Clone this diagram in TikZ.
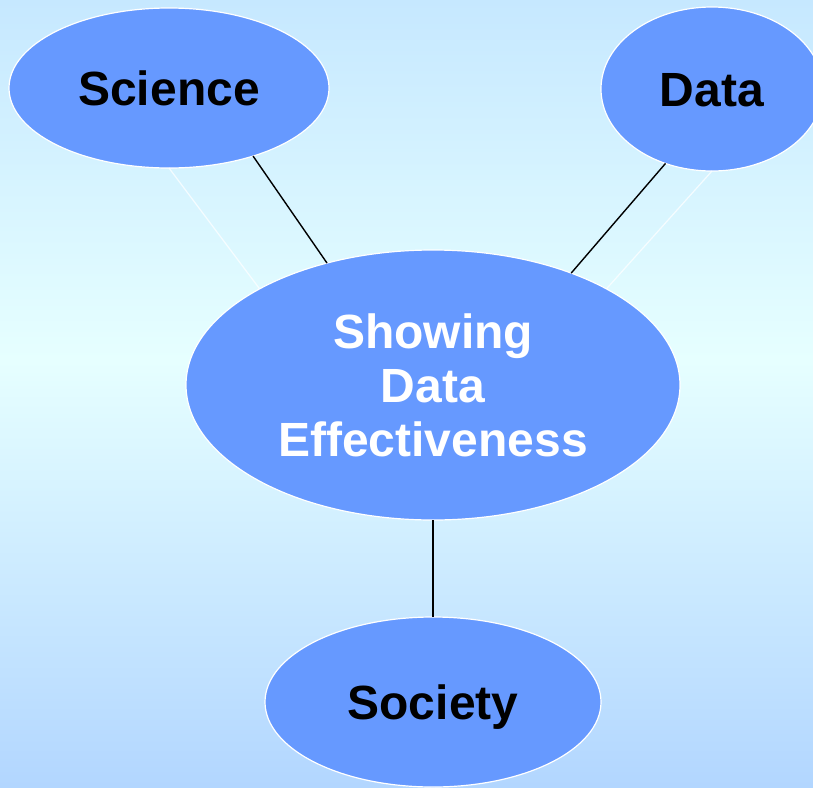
\documentclass[tikz,border=0pt]{standalone}
\usepackage{fontspec}
\setmainfont{Liberation Sans}
\usetikzlibrary{shapes.geometric}
\definecolor{bgtop}{RGB}{198,232,255}
\definecolor{bgmid}{RGB}{230,255,255}
\definecolor{bgbot}{RGB}{178,214,255}
\definecolor{bubble}{RGB}{102,153,255}
\tikzset{
  bubble/.style={ellipse, fill=bubble, draw=white, line width=1.2pt,
    inner sep=0pt, outer sep=0pt,
    font=\fontsize{48}{54}\selectfont\bfseries},
  leaf/.style={bubble, text=black, text height=35pt, text depth=0pt},
  link/.style={draw=black, line width=1.4pt},
  ghost/.style={draw=white, opacity=0.75, line width=1.2pt}
}
\begin{document}
\begin{tikzpicture}[x=1pt,y=-1pt]
  % background with a soft vertical gradient
  \shade[top color=bgtop, bottom color=bgmid] (0,0) rectangle (813,360);
  \shade[top color=bgmid, bottom color=bgbot] (0,360) rectangle (813,787);
  \useasboundingbox (0,0) rectangle (813,787);

  % the four bubbles
  \node[leaf, minimum width=320pt, minimum height=160pt] (sci) at (169,88) {Science};
  \node[leaf, minimum width=222pt, minimum height=164pt] (dat) at (712,89) {Data};
  \node[bubble, text=white, align=center, minimum width=494pt, minimum height=270pt] (ctr) at (433,385)
    {Showing\\Data\\Effectiveness};
  \node[leaf, minimum width=336pt, minimum height=170pt] (soc) at (433,702) {Society};

  % faint connectors
  \draw[ghost] (sci.south) -- (ctr.151);
  \draw[ghost] (dat.south) -- (ctr.29);

  % connectors
  \draw[link] (sci.-39) -- (ctr.131);
  \draw[link] (dat.-122) -- (ctr.39);
  \draw[link] (ctr.south) -- (soc.north);
\end{tikzpicture}
\end{document}
